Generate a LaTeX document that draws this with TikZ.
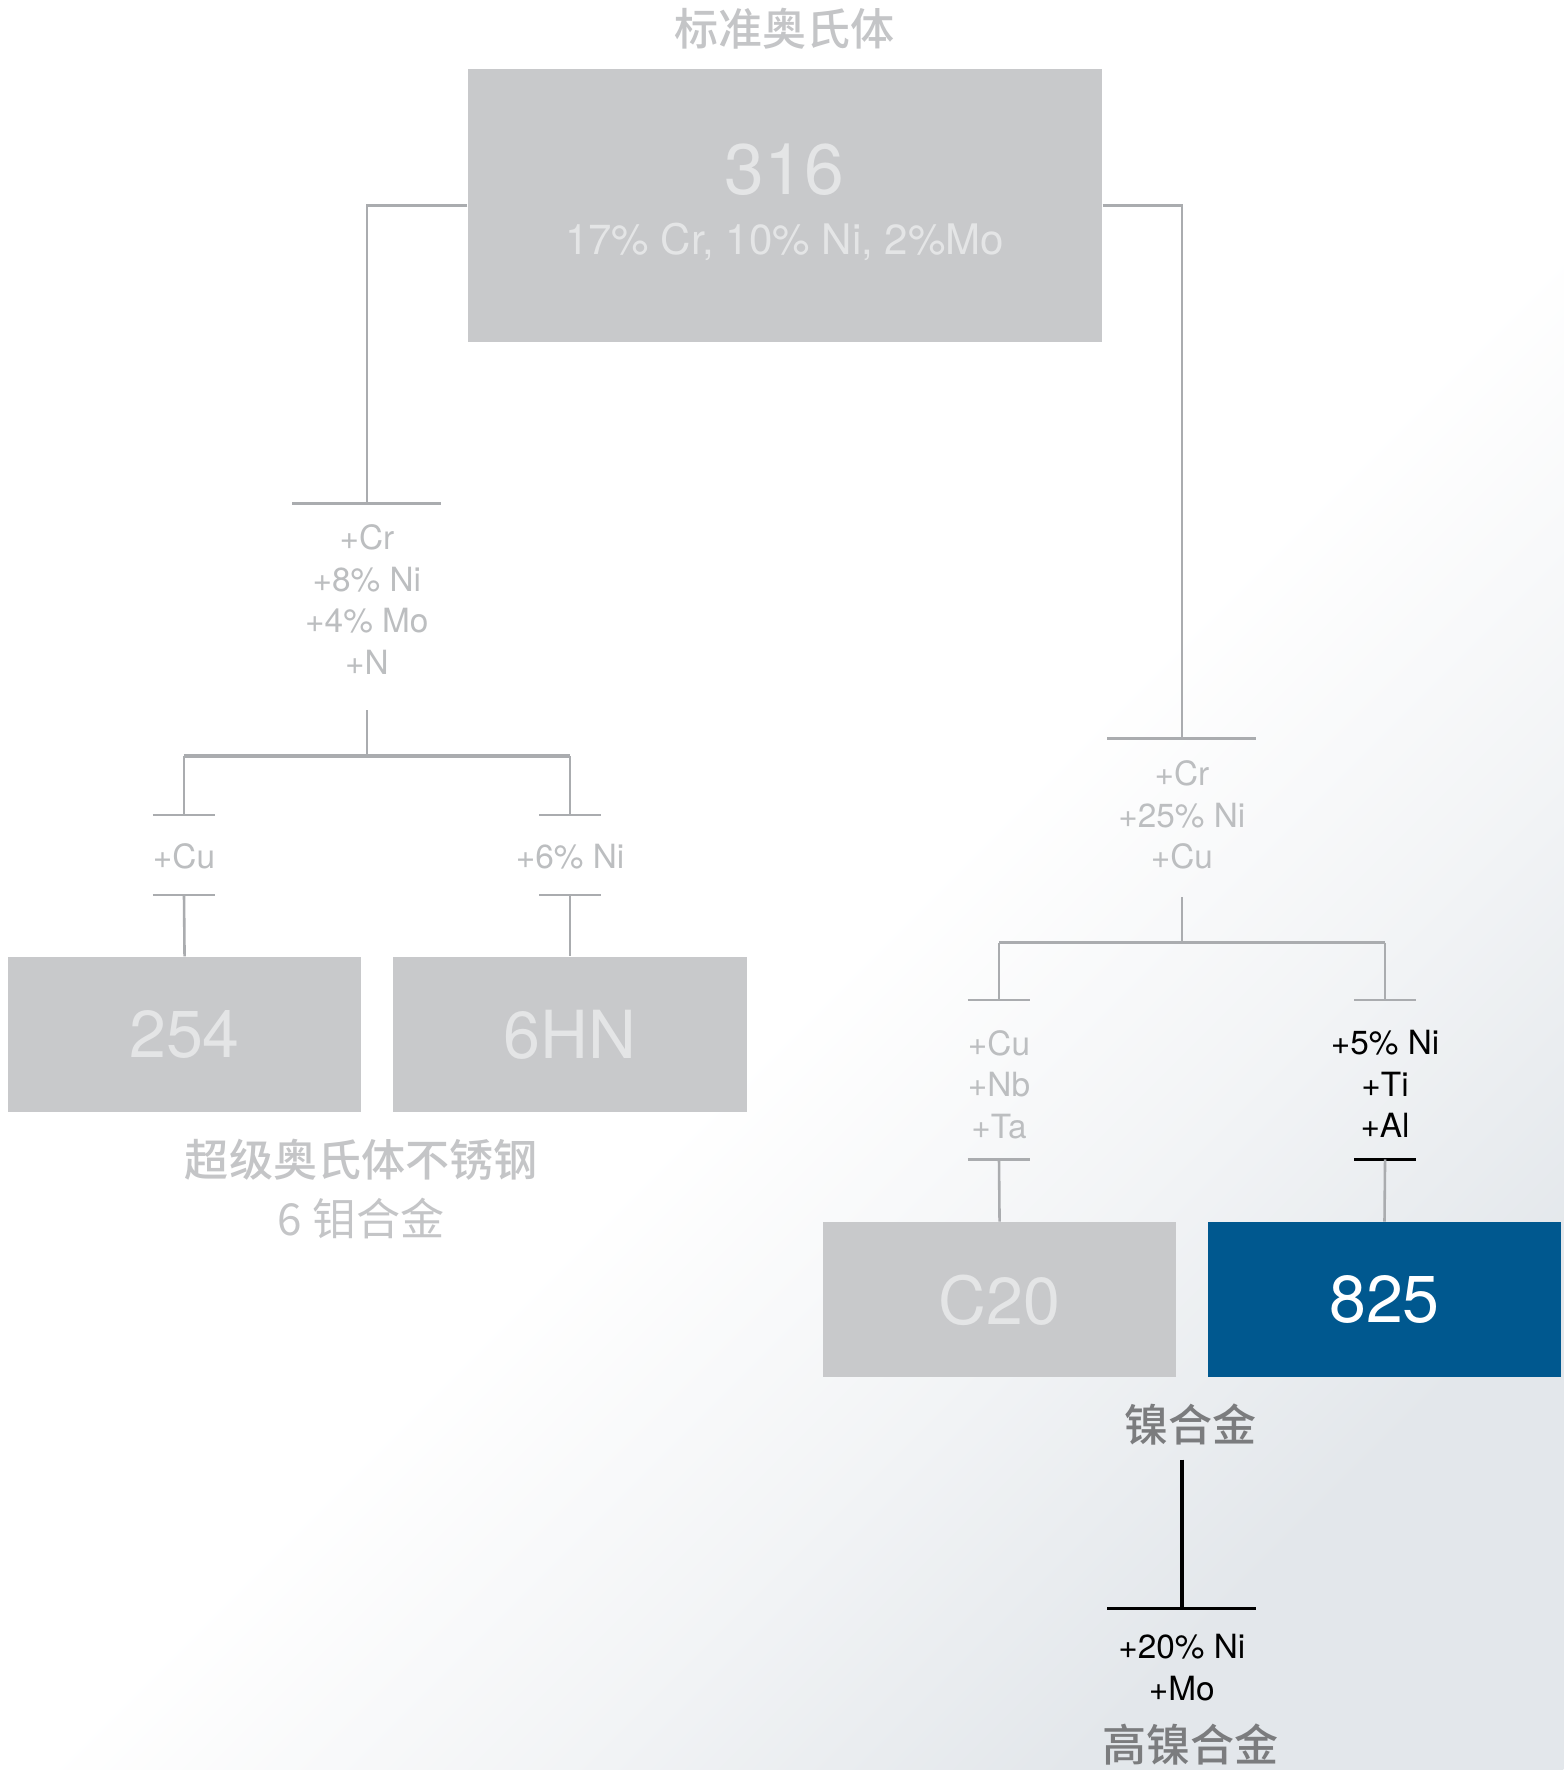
\documentclass[tikz,border=0pt]{standalone}
\usepackage{fontspec}
\setmainfont{TeX Gyre Heros}
\newfontfamily\cjk{Noto Sans CJK SC}
\newfontfamily\cjkmid{Noto Sans CJK SC Medium}
\usetikzlibrary{calc,positioning}

\definecolor{boxgray}{HTML}{C8C9CB}
\definecolor{boxtext}{HTML}{E4E5E6}
\definecolor{linegray}{HTML}{AAACAF}
\definecolor{labelgray}{HTML}{BCBEC0}
\definecolor{titlegray}{HTML}{C4C5C7}
\definecolor{darkgray}{HTML}{7B7C7E}
\definecolor{alloyblue}{HTML}{00588F}
\definecolor{bgedge}{HTML}{E3E7EB}
\colorlet{bgmid}{bgedge!45}
\pgfdeclareverticalshading{bgfade}{100bp}{color(0bp)=(bgedge); color(25bp)=(bgedge);
  color(36bp)=(bgmid); color(47bp)=(white); color(100bp)=(white)}

\tikzset{
  gbox/.style={fill=boxgray, minimum width=3.13cm, minimum height=1.37cm,
    inner sep=0pt, text=boxtext, font=\fontsize{16.7}{20}\selectfont},
  bbox/.style={gbox, fill=alloyblue, text=white},
  addlbl/.style={align=center, text=labelgray, inner sep=0pt, anchor=north,
    font=\fontsize{8.4}{10.5}\selectfont},
  addblk/.style={addlbl, text=black},
  cjklbl/.style={inner sep=0pt, text=titlegray,
    font=\cjkmid\fontsize{11.1}{13}\selectfont},
  wire/.style={draw=linegray, line width=0.65pt},
  busbar/.style={draw=linegray, line width=0.95pt},
  blkwire/.style={draw=black, line width=0.9pt},
}

\begin{document}
\begin{tikzpicture}[x=0.01cm, y=-0.01cm]
  % background
  \shade[shading=bgfade, shading angle=45] (0,0) rectangle (1385,1568);
  \useasboundingbox (0,0) rectangle (1385,1568);

  % standard austenitic 316
  \node[cjklbl] (title) at (695,25) {标准奥氏体};
  \node[gbox, minimum width=5.61cm, minimum height=2.42cm] (n316) at (695.5,182) {};
  \node[text=boxtext, font=\fontsize{18}{20}\selectfont, inner sep=0pt] (n316num) at (695,150) {316};
  \node[text=boxtext, font=\fontsize{10.6}{12}\selectfont, inner sep=0pt] (n316comp) at (695,214)
    {17\% Cr, 10\% Ni, 2\%Mo};

  % left branch: super austenitic
  \coordinate (barA) at (325,446);
  \draw[wire] (n316.west) -| (barA);
  \draw[wire] ($(barA)+(-66,0)$) -- ($(barA)+(66,0)$);
  \node[addlbl] (addA) at (325,464) {+Cr\\+8\% Ni\\+4\% Mo\\+N};
  \coordinate (forkA) at (325,670);
  \coordinate (forkAl) at (163,670);
  \coordinate (forkAr) at (505,670);
  \draw[wire] ($(addA.south)+(0,31)$) -- (forkA);
  \draw[busbar] (forkAl) -- (forkAr);

  \coordinate (barAl) at (163,722);
  \coordinate (barAr) at (505,722);
  \draw[wire] (forkAl) -- (barAl);
  \draw[wire] (forkAr) -- (barAr);
  \draw[wire] ($(barAl)+(-27.5,0)$) -- ($(barAl)+(27.5,0)$);
  \draw[wire] ($(barAr)+(-27.5,0)$) -- ($(barAr)+(27.5,0)$);
  \node[addlbl] (addAl) at (163,747) {+Cu};
  \node[addlbl] (addAr) at (505,747) {+6\% Ni};
  \coordinate (barAl2) at (163,793);
  \coordinate (barAr2) at (505,793);
  \draw[wire] ($(barAl2)+(-27.5,0)$) -- ($(barAl2)+(27.5,0)$);
  \draw[wire] ($(barAr2)+(-27.5,0)$) -- ($(barAr2)+(27.5,0)$);

  \node[gbox] (n254) at (163.5,916.5) {254};
  \node[gbox] (n6hn) at (505,916.5) {6HN};
  \draw[wire] (barAl2) -- (n254.north);
  \draw[wire] (barAr2) -- (n6hn.north);
  \node[cjklbl] (superaus) at (320,1027) {超级奥氏体不锈钢};
  \node[cjklbl, font=\cjk\fontsize{11.1}{13}\selectfont] (sixmo) at (320,1079) {6 钼合金};

  % right branch: nickel alloys
  \coordinate (barB) at (1047,654);
  \draw[wire] (n316.east) -| (barB);
  \draw[wire] ($(barB)+(-66,0)$) -- ($(barB)+(66,0)$);
  \node[addlbl] (addB) at (1047,673) {+Cr\\+25\% Ni\\+Cu};
  \coordinate (forkB) at (1047,835);
  \coordinate (forkBl) at (885,835);
  \coordinate (forkBr) at (1227,835);
  \draw[wire] ($(addB.south)+(0,24)$) -- (forkB);
  \draw[busbar] (forkBl) -- (forkBr);

  \coordinate (barBl) at (885,886);
  \coordinate (barBr) at (1227,886);
  \draw[wire] (forkBl) -- (barBl);
  \draw[wire] (forkBr) -- (barBr);
  \draw[wire] ($(barBl)+(-27.5,0)$) -- ($(barBl)+(27.5,0)$);
  \draw[wire] ($(barBr)+(-27.5,0)$) -- ($(barBr)+(27.5,0)$);
  \node[addlbl] (addBl) at (885,912) {+Cu\\+Nb\\+Ta};
  \node[addblk] (addBr) at (1227,912) {+5\% Ni\\+Ti\\+Al};
  \coordinate (barBl2) at (885,1027);
  \coordinate (barBr2) at (1227,1027);
  \draw[wire] ($(barBl2)+(-27.5,0)$) -- ($(barBl2)+(27.5,0)$);
  \draw[draw=black, line width=0.6pt] ($(barBr2)+(-27.5,0)$) -- ($(barBr2)+(27.5,0)$);

  \node[gbox] (nc20) at (885.5,1151.5) {C20};
  \node[bbox] (n825) at (1226.5,1151.5) {825};
  \draw[wire] (barBl2) -- (nc20.north);
  \draw[wire] (barBr2) -- (n825.north);
  \node[cjklbl, text=darkgray] (nickel) at (1055,1262) {镍合金};

  % high nickel
  \coordinate (nickelTop) at (1047,1293);
  \coordinate (barC) at (1047,1425);
  \draw[blkwire] (nickelTop) -- (barC);
  \draw[blkwire] ($(barC)+(-66,0)$) -- ($(barC)+(66,0)$);
  \node[addblk] (addC) at (1047,1447) {+20\% Ni\\+Mo};
  \node[cjklbl, text=darkgray] (highnickel) at (1055,1545) {高镍合金};
\end{tikzpicture}
\end{document}
